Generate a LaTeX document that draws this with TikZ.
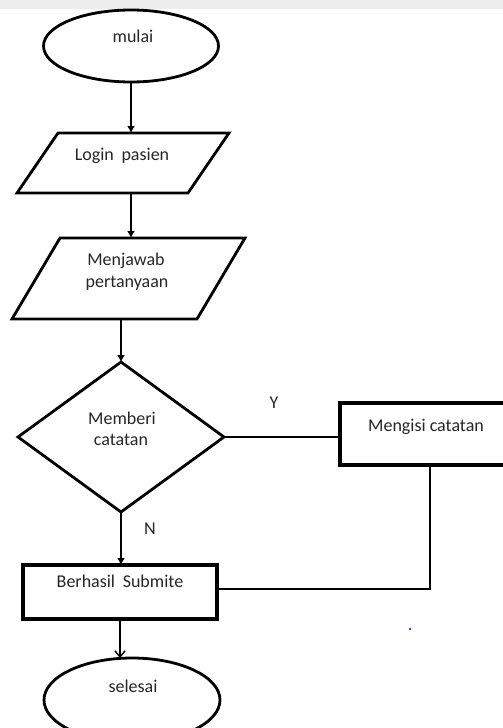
\documentclass[tikz,border=0pt]{standalone}
\usepackage{fontspec}
\setmainfont{Carlito}
\usetikzlibrary{shapes.geometric,arrows.meta}
\begin{document}
\begin{tikzpicture}[x=1pt,y=-1pt,
  shapebox/.style={draw=black,line width=2.8pt,inner sep=0pt,outer sep=0pt},
  ellbox/.style={shapebox,ellipse},
  rectbox/.style={shapebox,rectangle,line width=3.4pt},
  iobase/.style={rectangle,inner sep=0pt,outer sep=0pt},
  iodraw/.style={draw=black,line width=2.8pt,line join=miter},
  decbox/.style={shapebox,diamond},
  txt/.style={font=\fontsize{18}{22}\selectfont,text=black!85,inner sep=0pt,anchor=base,align=center},
  conn/.style={draw=black,line width=1.8pt},
  arr/.style={conn,-{Latex[length=7pt,width=8pt]}},
  openarr/.style={conn,-{Straight Barb[length=6pt,width=10pt,line width=1.4pt]}}
]
\useasboundingbox (0,0) rectangle (503,728);
\fill[black!7] (0,0) rectangle (503,9);

% shapes
\node[ellbox,minimum width=175pt,minimum height=72pt] (mulai) at (131,46) {};
\node[iobase,minimum width=212pt,minimum height=60pt] (login) at (123,163) {};
\draw[iodraw] ([xshift=41pt]login.north west) -- (login.north east)
  -- ([xshift=-41pt]login.south east) -- (login.south west) -- cycle;
\node[iobase,minimum width=233pt,minimum height=81pt] (menjawab) at (128.5,278.5) {};
\draw[iodraw] ([xshift=48pt]menjawab.north west) -- (menjawab.north east)
  -- ([xshift=-48pt]menjawab.south east) -- (menjawab.south west) -- cycle;
\node[decbox,minimum width=206pt,minimum height=150pt] (dec) at (121,437) {};
\node[rectbox,minimum width=180pt,minimum height=62pt] (mengisi) at (430,434) {};
\node[rectbox,minimum width=194pt,minimum height=54pt] (berhasil) at (120,592) {};
\node[ellbox,minimum width=176pt,minimum height=84pt] (selesai) at (132,700) {};

% texts
\node[txt] (tmulai) at (133,42) {mulai};
\node[txt] (tlogin) at (122,160) {Login\hspace{0.2em} pasien};
\node[txt] (tmenjawab1) at (126,265) {Menjawab};
\node[txt] (tmenjawab2) at (127,287) {pertanyaan};
\node[txt] (tdec1) at (122,424) {Memberi};
\node[txt] (tdec2) at (121,445) {catatan};
\node[txt] (tmengisi) at (426,431) {Mengisi catatan};
\node[txt] (tberhasil) at (120,587) {Berhasil\hspace{0.2em} Submite};
\node[txt] (tselesai) at (133,692) {selesai};
\node[txt] (ly) at (274,408) {Y};
\node[txt] (ln) at (150,534) {N};

% connectors
\draw[arr] (mulai.south) -- (mulai.south |- login.north);
\draw[arr] (login.south -| mulai.south) -- (menjawab.north -| mulai.south);
\draw[arr] (menjawab.south -| dec.north) -- (dec.north);
\draw[conn] (dec.east) -- (dec.east -| mengisi.west);
\draw[arr] (dec.south) -- (dec.south |- berhasil.north);
\draw[conn] (mengisi.south) |- ([yshift=3pt]berhasil.east);
\draw[openarr] (berhasil.south) -- (berhasil.south |- selesai.north);

% stray dot
\fill[blue!80] (410,629) circle (1.3pt);
\end{tikzpicture}
\end{document}
